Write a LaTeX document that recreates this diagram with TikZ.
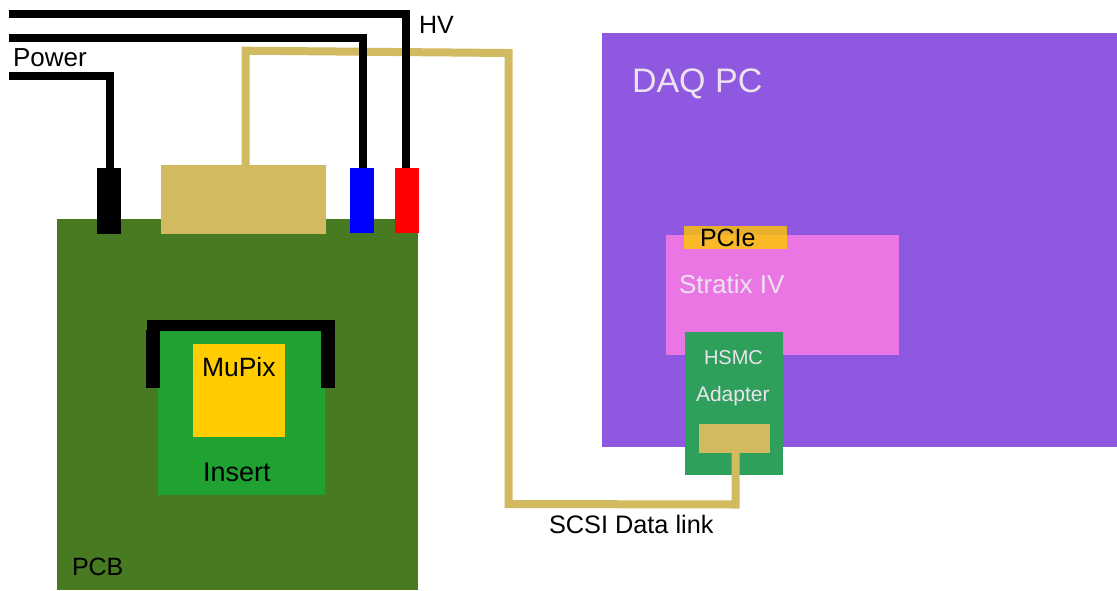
\documentclass[tikz,border=0pt]{standalone}
\usepackage{fontspec}
\setmainfont{Liberation Sans}
\definecolor{pcbg}{HTML}{477A21}
\definecolor{insg}{HTML}{1FA232}
\definecolor{goldc}{HTML}{D2BA60}
\definecolor{mupixc}{HTML}{FFCC00}
\definecolor{daqc}{HTML}{8E58E0}
\definecolor{stratc}{HTML}{E976E3}
\definecolor{hsmcc}{HTML}{2EA05C}
\definecolor{pciec}{HTML}{FBB827}
\definecolor{pcietop}{HTML}{E8B02C}
\definecolor{lighttxt}{HTML}{EDE3F0}
\newcommand{\fs}[1]{\fontsize{#1}{#1}\selectfont}
\tikzset{
  box/.style={draw=none,rectangle,anchor=north west,inner sep=0pt,outer sep=0pt},
  wh/.style 2 args={minimum width=#1pt,minimum height=#2pt},
  lbl/.style={anchor=base west,inner sep=0pt,outer sep=0pt,text=black},
  wire/.style={draw=black,line width=8pt,line join=miter},
  scsi/.style={draw=goldc,line width=8pt,line join=miter}
}
\begin{document}
\begin{tikzpicture}[x=1pt,y=-1pt]
\useasboundingbox (0,0) rectangle (1117,590);
% boards
\node[box,wh={361}{371},fill=pcbg] (pcb) at (57,219) {};
\node[box,wh={515}{414},fill=daqc] (daq) at (602,33) {};
\node[box,wh={233}{120},fill=stratc] (stratix) at (666,235) {};
\node[box,wh={103}{23},fill=pciec] (pcie) at (684,226) {};
\node[box,wh={103}{9},fill=pcietop] (pcieT) at (684,226) {};
\node[box,wh={98}{143},fill=hsmcc] (hsmc) at (685,332) {};
% SCSI cable
\node[box,wh={71}{29},fill=goldc] (scsiB) at (699,424) {};
\node[box,wh={165}{69},fill=goldc] (scsiA) at (161,165) {};
\coordinate (a1) at (245.5,165);
\coordinate (a2) at (245.5,50.7);
\coordinate (a3) at (508.5,53);
\coordinate (a4) at (508.5,504);
\coordinate (a5) at (735.5,504.5);
\coordinate (a6) at (735.5,453);
\draw[scsi] (a1) -- (a2) -- (a3) -- (a4) -- (a5) -- (a6);
% connectors
\node[box,wh={24}{66},fill=black] (pwr) at (97,168) {};
\node[box,wh={24}{65},fill=blue] (blu) at (350,168) {};
\node[box,wh={24}{65},fill=red] (rd) at (395,168) {};
\coordinate (w1) at (9,75.5);
\coordinate (w2) at (9,37.5);
\coordinate (w3) at (8.5,13.5);
\draw[wire] (w1) -| ([xshift=.5pt]pwr.north);
\draw[wire] (w2) -| ([xshift=.5pt]blu.north);
\draw[wire] (w3) -| ([xshift=-1.5pt]rd.north);
% insert
\node[box,wh={167}{175},fill=insg] (ins) at (158,320) {};
\node[box,wh={188}{11},fill=black] (brT) at (147,320) {};
\node[box,wh={14}{58},fill=black] (brL) at (146,330) {};
\node[box,wh={14}{58},fill=black] (brR) at (321,330) {};
\node[box,wh={92}{93},fill=mupixc] (mupix) at (193,344) {};
% labels
\node[lbl,font=\fs{26}] (lPower) at (13,66) {Power};
\node[lbl,font=\fs{25}] (lHV) at (419,33) {HV};
\node[lbl,font=\fs{26.5}] (lMu) at (202,376) {MuPix};
\node[lbl,font=\fs{27}] (lIns) at (203,481) {Insert};
\node[lbl,font=\fs{25}] (lPCB) at (72,575) {PCB};
\node[lbl,font=\fs{25}] (lPCIe) at (700,246) {PCIe};
\node[lbl,font=\fs{25.3}] (lSCSI) at (549,533) {SCSI Data link};
\node[lbl,font=\fs{34},text=lighttxt] (lDAQ) at (632,92) {DAQ PC};
\node[lbl,font=\fs{26},text=lighttxt] (lStr) at (679,293) {Stratix IV};
\node[lbl,font=\fs{20},text=lighttxt] (lHS) at (704,364) {HSMC};
\node[lbl,font=\fs{21},text=lighttxt] (lAd) at (696,401) {Adapter};
\end{tikzpicture}
\end{document}
